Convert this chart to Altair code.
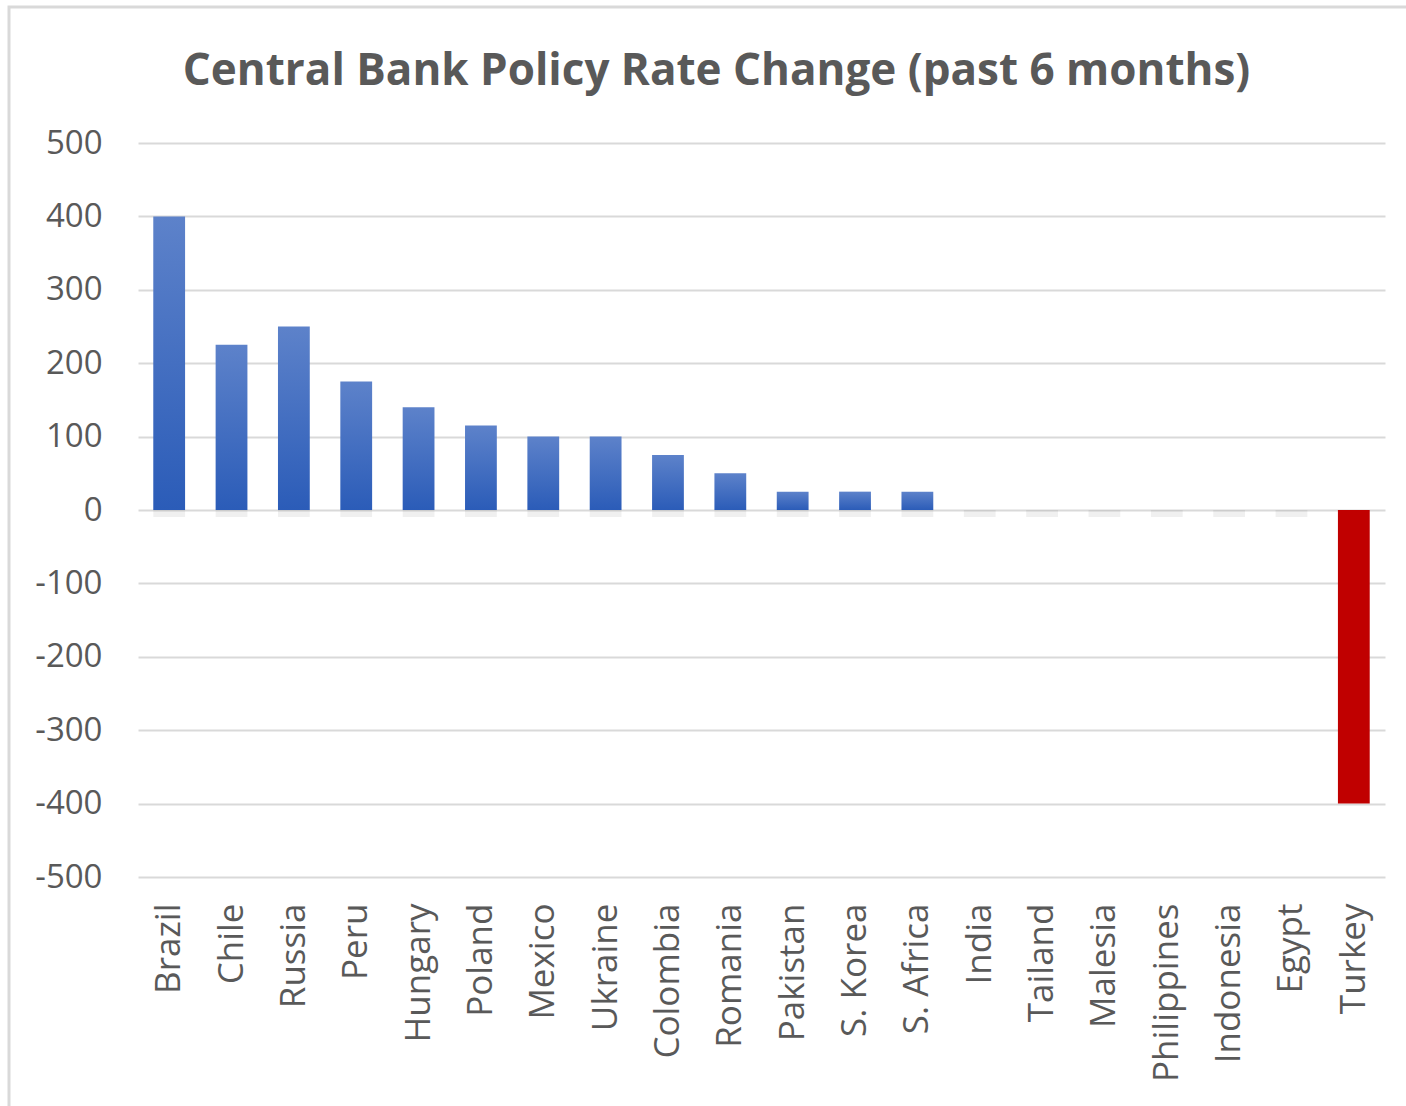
import altair as alt
import pandas as pd

countries = ["Brazil", "Chile", "Russia", "Peru", "Hungary", "Poland", "Mexico",
             "Ukraine", "Colombia", "Romania", "Pakistan", "S. Korea", "S. Africa",
             "India", "Tailand", "Malesia", "Philippines", "Indonesia", "Egypt", "Turkey"]
changes = [400, 225, 250, 175, 140, 115, 100, 100, 75, 50, 25, 25, 25,
           0, 0, 0, 0, 0, 0, -400]
y_ticks = [500, 400, 300, 200, 100, 0, -100, -200, -300, -400, -500]
title_text = "Central Bank Policy Rate Change (past 6 months)"

df = pd.DataFrame({"country": countries, "change": changes})

FONT = "Open Sans"
GREY = "#595959"
W, H = 1247, 734

x_enc = alt.X(
    "country:N", sort=countries,
    scale=alt.Scale(paddingInner=0.49, paddingOuter=0.245),
    axis=alt.Axis(title=None, labelAngle=270, labelAlign="right", labelBaseline="middle",
                  labelPadding=26, ticks=False, domain=False, grid=False,
                  labelFont=FONT, labelFontSize=35, labelColor=GREY),
)
y_scale = alt.Scale(domain=[-500, 500], nice=False)
y_enc = alt.Y(
    "change:Q",
    scale=y_scale,
    axis=alt.Axis(title=None, values=y_ticks, ticks=False, domain=False,
                  grid=True, gridColor="#d9d9d9", gridWidth=2,
                  labelExpr="'' + datum.value",
                  labelPadding=36, labelFont=FONT, labelFontSize=33, labelColor=GREY),
)

base = alt.Chart(df)

blue_grad = alt.Gradient(
    gradient="linear", x1=0, x2=0, y1=0, y2=1,
    stops=[alt.GradientStop(color="#5d82ca", offset=0),
           alt.GradientStop(color="#2b5cb8", offset=1)],
)

shadow = base.mark_bar(color="#000000", opacity=0.06).encode(
    x=x_enc, y=alt.Y(datum=0, scale=y_scale), y2=alt.value(H / 2 + 7),
).transform_filter("datum.change >= 0")

blue = base.mark_bar(color=blue_grad).encode(
    x=x_enc, y=y_enc, y2=alt.datum(0)
).transform_filter("datum.change > 0")

red = base.mark_bar(color="#c00000").encode(
    x=x_enc, y=y_enc, y2=alt.datum(0)
).transform_filter("datum.change < 0")

frame = alt.Chart(df).mark_rect(fill=None, stroke="#d9d9d9", strokeWidth=3, clip=False).encode(
    x=alt.value(-129), x2=alt.value(W + 200), y=alt.value(-136), y2=alt.value(H + 400)
).transform_filter("datum.country == 'Brazil'")

chart = alt.layer(frame, shadow, blue, red).properties(
    width=W, height=H,
    autosize=alt.AutoSizeParams(type="none"),
    padding={"left": 138, "top": 143, "right": 21, "bottom": 229},
    title=alt.Title(title_text, font=FONT, fontSize=44, fontWeight="bold", color=GREY,
                    anchor="middle", dx=-45, offset=-88),
).configure(background="white").configure_view(stroke="transparent")

chart.save("out.html", embed_options={"renderer": "svg", "actions": False})
